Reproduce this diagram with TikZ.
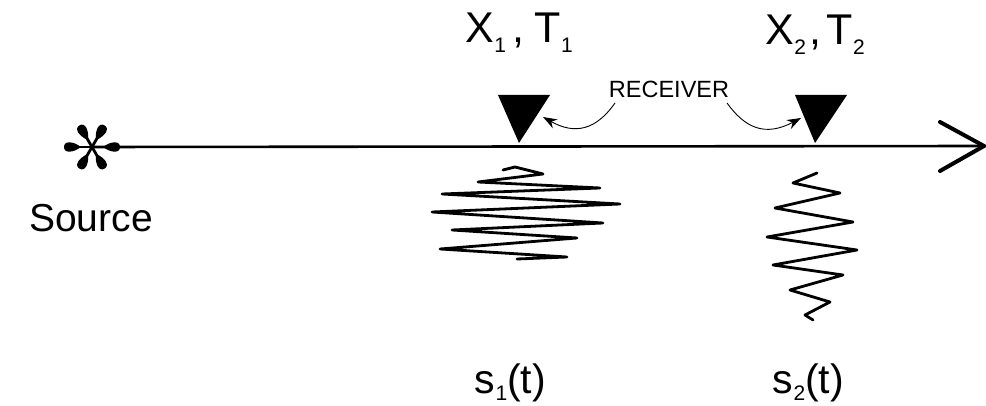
\documentclass[tikz,border=0pt]{standalone}
\usepackage{fontspec}
\setmainfont{Liberation Sans}
\usetikzlibrary{arrows.meta}
\newcommand{\lowsub}[2][10pt]{\raisebox{-#1}{\fontsize{21}{24}\selectfont #2}}
\tikzset{
  lbl/.style={inner sep=0pt, anchor=base, font=\fontsize{41}{48}\selectfont},
  wave/.style={line width=2.8pt, line join=round, line cap=round},
  ptr/.style={line width=0.9pt, -{Stealth[length=14pt,width=10pt]}},
  rcv/.style={fill=black},
  arm/.style={line width=2.8pt, line cap=round}
}
\begin{document}
\begin{tikzpicture}[x=1pt,y=-1pt]
\useasboundingbox (0,0) rectangle (986,406);
% main line with open arrow head
\coordinate (src) at (92,147);
\coordinate (endp) at (984,146);
\draw[line width=2.6pt] (src) -- (endp);
\coordinate (ha) at (940,122);
\coordinate (hb) at (940,171);
\draw[line width=4pt, line cap=round, line join=miter] (ha) -- (endp) -- (hb);
% source star
\foreach \a/\r in {0/28,60/25,120/25,180/28,240/25,300/25}{
  \begin{scope}[shift={(src)}, rotate=\a]
    \draw[arm] (0,0) -- (\r-4,0);
    \fill (\r-17,0) .. controls (\r-9,-6) and (\r,-6.5) .. (\r,0)
                    .. controls (\r,6.5) and (\r-9,6) .. (\r-17,0) -- cycle;
  \end{scope}
}
\node[lbl, font=\fontsize{39}{46}\selectfont] (source) at (91,232) {Source};
% receivers
\coordinate (r1) at (519,143);
\coordinate (r2) at (815,143);
\fill[rcv] (498,95) -- (550,95) -- (r1) -- cycle;
\fill[rcv] (795,95) -- (847,95) -- (r2) -- cycle;
\node[lbl, font=\fontsize{43}{50}\selectfont] (x1) at (519,43) {X\kern0.5pt\lowsub{1}\kern7pt,\kern10pt T\lowsub{1}};
\node[lbl, font=\fontsize{43}{50}\selectfont] (x2) at (815,45) {X\kern0.5pt\lowsub{2}\kern4pt,\kern5pt T\lowsub{2}};
\node[lbl, font=\fontsize{23.5}{28}\selectfont] (rec) at (669,98) {RECEIVER};
\coordinate (t1) at (543,117);
\coordinate (t2) at (801,118);
\draw[ptr] (615,103) .. controls (596,130) and (575,135) .. (t1);
\draw[ptr] (727,103) .. controls (745,128) and (765,137) .. (t2);
% waves
\draw[wave] (503,170) -- (515,167) -- (543,174) -- (478,182) -- (600,188) -- (442,194) -- (620,204) -- (432,212) -- (603,223) -- (452,230) -- (577,238) -- (440,249) -- (567,257) -- (517,259);
\draw[wave] (817,173) -- (793,183) -- (840,193) -- (775,208) -- (853,222) -- (767,237) -- (857,250) -- (773,265) -- (843,275) -- (790,290) -- (830,302) -- (805,315) -- (813,320);
% signal labels
\node[lbl] (s1) at (510,393) {s\kern1pt\lowsub[7pt]{1}(t)};
\node[lbl] (s2) at (808,393) {s\kern1pt\lowsub[7pt]{2}(t)};
\end{tikzpicture}
\end{document}
